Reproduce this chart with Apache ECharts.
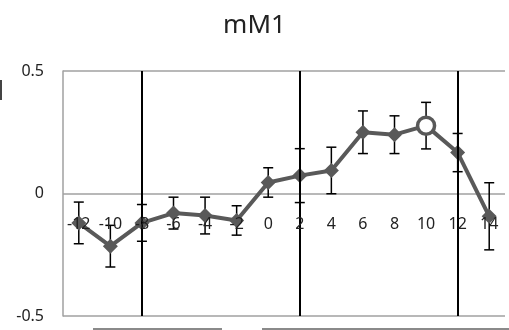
<!DOCTYPE html>
<html>
<head>
<meta charset="utf-8">
<script src="https://cdn.jsdelivr.net/npm/echarts@6/dist/echarts.min.js"></script>
<style>html,body{margin:0;padding:0;background:#fff;}#c{width:509px;height:330px;}</style>
</head>
<body>
<div id="c"></div>
<script>
var categories = ['-12','-10','-8','-6','-4','-2','0','2','4','6','8','10','12','14'];
var means = [-0.12,-0.215,-0.12,-0.08,-0.09,-0.11,0.045,0.073,0.094,0.25,0.24,0.277,0.167,-0.093];
var errors = [0.085,0.085,0.075,0.065,0.075,0.06,0.06,0.11,0.095,0.087,0.077,0.095,0.078,0.137];
var verticalLines = ['-8','2','12'];
var openPointCategory = '10';
var yTicks = {min:-0.5, max:0.5, interval:0.5};
var titleText = 'mM1';

var FONT = 'Noto Sans';
var lineData = means.map(function(v,i){
  if (categories[i] === openPointCategory) {
    return {value:v, symbol:'circle', symbolSize:17,
      itemStyle:{color:'#ffffff', borderColor:'#595959', borderWidth:3.5}};
  }
  return v;
});
var errData = means.map(function(v,i){ return [i, v-errors[i], v+errors[i]]; });

var chart = echarts.init(document.getElementById('c'));
chart.setOption({
  animation:false,
  title:{text:titleText, left:'center', top:8, textStyle:{fontFamily:FONT, fontSize:26, fontWeight:'normal', color:'#222'}},
  grid:{left:63, right:4, top:71, bottom:14, containLabel:false, outerBoundsMode:'none'},
  xAxis:{type:'category', data:categories, boundaryGap:true, zlevel:1, z:10,
    axisLine:{show:false},
    axisTick:{show:false},
    axisLabel:{fontFamily:FONT, fontSize:16, color:'#222', margin:-100, interval:0},
    splitLine:{show:false}},
  yAxis:{type:'value', min:yTicks.min, max:yTicks.max, interval:yTicks.interval,
    axisLine:{show:true, lineStyle:{color:'#a0a0a0', width:1.5}},
    axisTick:{show:false},
    axisLabel:{fontFamily:FONT, fontSize:16, color:'#222', margin:19},
    splitLine:{lineStyle:{color:'#a0a0a0', width:1.5}}},
  series:[
    {type:'custom', z:3, data:errData,
      renderItem:function(params, api){
        var x = api.value(0);
        var lo = api.coord([x, api.value(1)]);
        var hi = api.coord([x, api.value(2)]);
        var w = 5;
        var st = {stroke:'#000', lineWidth:1.5};
        return {type:'group', children:[
          {type:'line', shape:{x1:lo[0], y1:lo[1], x2:hi[0], y2:hi[1]}, style:st},
          {type:'line', shape:{x1:lo[0]-w, y1:lo[1], x2:lo[0]+w, y2:lo[1]}, style:st},
          {type:'line', shape:{x1:hi[0]-w, y1:hi[1], x2:hi[0]+w, y2:hi[1]}, style:st}
        ]};
      }},
    {type:'line', z:4, data:lineData, symbol:'diamond', symbolSize:15,
      lineStyle:{color:'#595959', width:4}, itemStyle:{color:'#595959'},
      markLine:{silent:true, symbol:'none', label:{show:false},
        lineStyle:{color:'#000', width:2, type:'solid'},
        data:verticalLines.map(function(c){ return {xAxis:c}; })}}
  ],
  graphic:[
    {type:'line', shape:{x1:1, y1:80, x2:1, y2:100}, style:{stroke:'#444', lineWidth:2}},
    {type:'line', shape:{x1:93, y1:329, x2:222, y2:329}, style:{stroke:'#8a8a8a', lineWidth:2}},
    {type:'line', shape:{x1:262, y1:329, x2:509, y2:329}, style:{stroke:'#8a8a8a', lineWidth:2}}
  ]
});
</script>
</body>
</html>
